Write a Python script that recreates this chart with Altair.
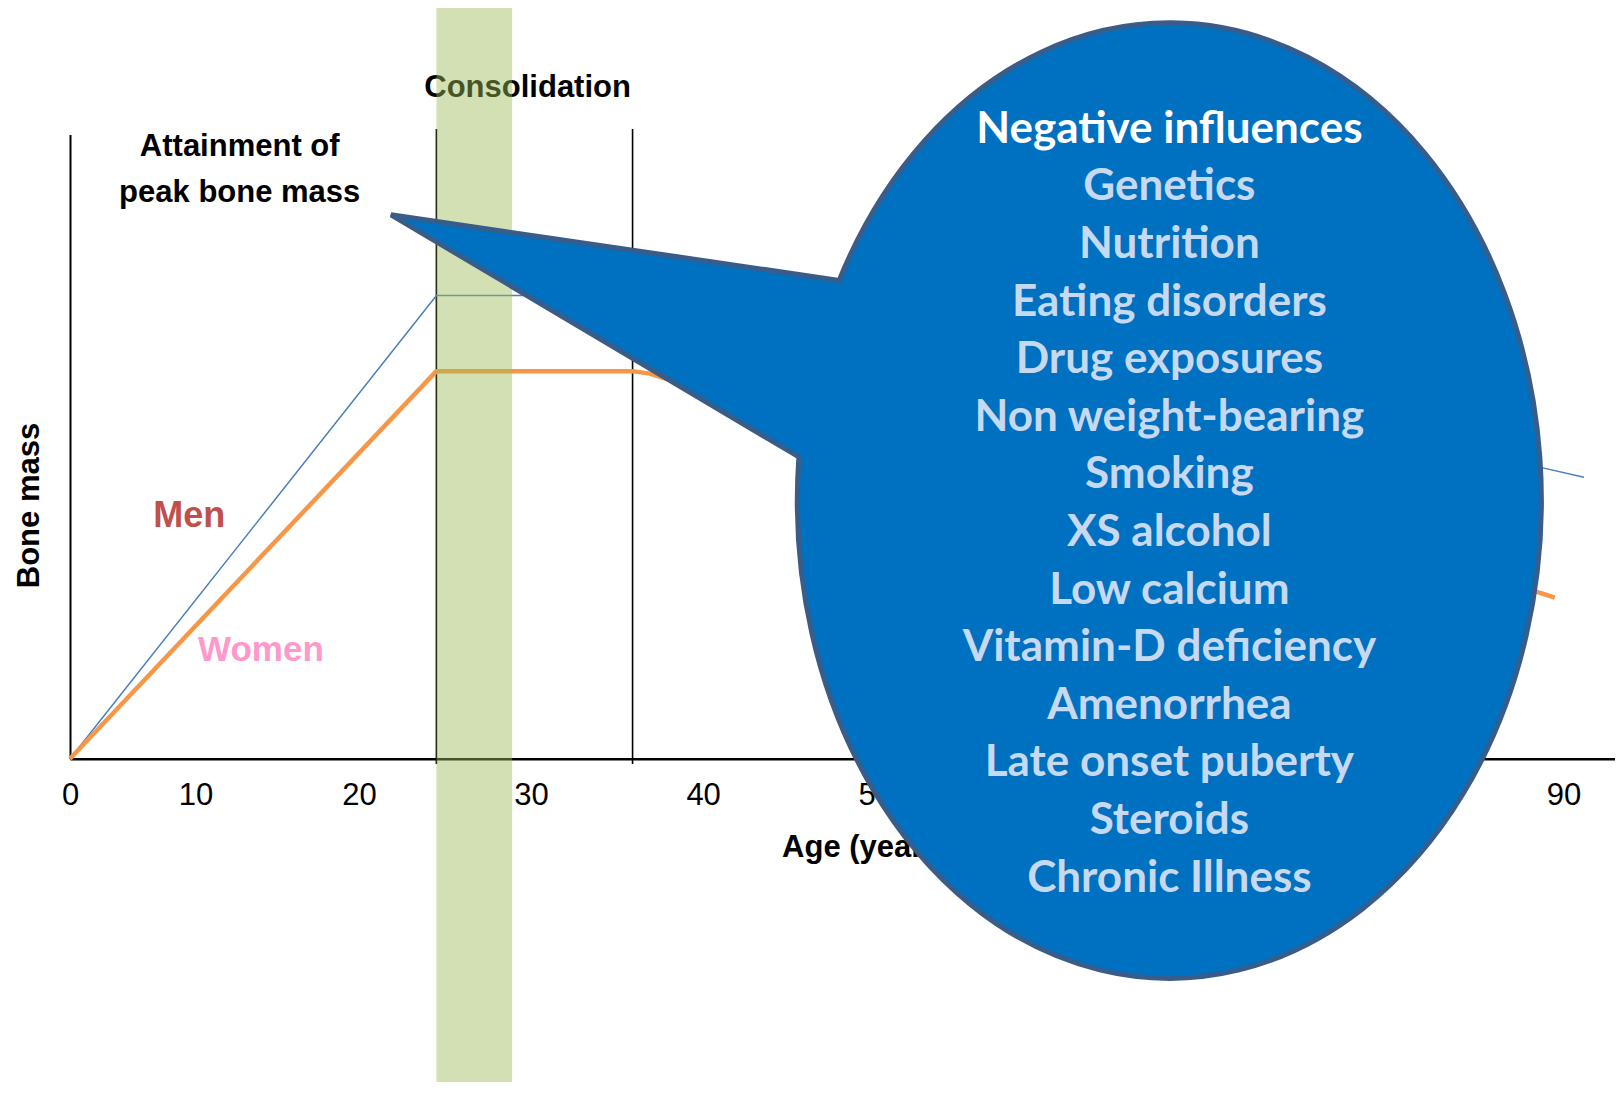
import altair as alt
import pandas as pd

# ---------------- data ----------------
men_age = [0, 24.5, 38, 88.8, 91.2]
men_mass = [0, 74.2, 74.2, 46.6, 45.1]
women_age = [0, 24.5, 35.9, 36.9, 37.8, 88.6, 89.5]
women_mass = [0, 62.1, 62.1, 61.7, 60.9, 26.6, 25.8]

phase_ages = [24.5, 35.9]           # vertical phase boundaries
band_start, band_end = 24.5, 28.9    # consolidation band
tick_values = [0, 10, 20, 30, 40, 50, 60, 70, 80, 90]

title_line = "Negative influences"
influences = ["Genetics", "Nutrition", "Eating disorders", "Drug exposures",
              "Non weight-bearing", "Smoking", "XS alcohol", "Low calcium",
              "Vitamin-D deficiency", "Amenorrhea", "Late onset puberty",
              "Steroids", "Chronic Illness"]

NARROW = "Liberation Sans Narrow, Arial Narrow, Liberation Sans, sans-serif"
CAL = "Lato, Open Sans, sans-serif"
FS = 31
H = 1074

x_scale = alt.Scale(domain=[0, 10, 20, 93], range=[0, 125.6, 289, 1545], nice=False, zero=False)
y_scale = alt.Scale(domain=[0, 100], range=[750.7, 126.6], nice=False, zero=False)

x_axis = alt.Axis(values=tick_values, ticks=False, tickSize=0, grid=False,
                  domainColor="black", domainWidth=2.5,
                  labelFont=NARROW, labelFontSize=FS, labelColor="black",
                  labelBaseline="middle", labelPadding=37,
                  labelFlush=False, labelOverlap=False,
                  offset=-(H - 750.7), title="Age (years)", titleFont=NARROW,
                  titleFontSize=FS, titleFontWeight="bold", titleColor="black",
                  titleX=796, titleY=88.3, titleBaseline="middle", titleAlign="center")
y_axis = alt.Axis(ticks=False, tickSize=0, labels=False, grid=False,
                  domainColor="black", domainWidth=2,
                  title="Bone mass", titleFont=NARROW, titleFontSize=FS,
                  titleFontWeight="bold", titleColor="black",
                  titleX=-41, titleY=497, titleAngle=270,
                  titleAlign="center", titleBaseline="middle")


def X(**kw):
    return alt.X("age:Q", scale=x_scale, axis=x_axis, **kw)


def Y(**kw):
    return alt.Y("mass:Q", scale=y_scale, axis=y_axis, **kw)


rules_df = pd.DataFrame({"age": phase_ages, "mass": [-0.85] * 2, "mass2": [100.9] * 2})
rules = alt.Chart(rules_df).mark_rule(color="black", strokeWidth=1.6).encode(
    x=X(), y=Y(), y2="mass2:Q")

men = alt.Chart(pd.DataFrame({"age": men_age, "mass": men_mass})).mark_line(
    color="#4a7ebb", strokeWidth=1.5).encode(x=X(), y=Y())
women = alt.Chart(pd.DataFrame({"age": women_age, "mass": women_mass})).mark_line(
    color="#f79646", strokeWidth=4.5, strokeJoin="round").encode(x=X(), y=Y())


def label(txt, age, mass, color="black", size=FS, lh=None):
    kw = dict(text=txt, font=NARROW, fontSize=size, fontWeight="bold", color=color,
              align="center", baseline="middle")
    if lh:
        kw["lineHeight"] = lh
    return alt.Chart(pd.DataFrame({"age": [age], "mass": [mass]})).mark_text(**kw).encode(x=X(), y=Y())


t_cons = label("Consolidation", 29.8, 107.5)
t_att = label(["Attainment of", "peak bone mass"], 12.7, 98.0, lh=46)
t_men = label("Men", 9.5, 38.9, color="#c0504d", size=36)
t_women = label("Women", 14.0, 17.4, color="#ff99cc", size=35)

band = alt.Chart(pd.DataFrame({"age": [band_start], "age2": [band_end]})).mark_rect(
    color="#9bbb59", opacity=0.45).encode(x=X(), x2="age2:Q")

CALLOUT_PATH = "M -330.2 -219.9 A 372 477.7 0 1 1 -370.5 -43.4 L -778.4 -285.5 Z"
callout = alt.Chart(pd.DataFrame({"age": [67.1], "mass": [41.4]})).mark_point(
    shape=CALLOUT_PATH, size=4, filled=True, fill="#0070c0", fillOpacity=1,
    stroke="#385d8a", strokeWidth=5, strokeOpacity=1, opacity=1).encode(x=X(), y=Y())

c_title = alt.Chart(pd.DataFrame({"age": [67.1], "mass": [100.7]})).mark_text(
    text=title_line, font=CAL, fontSize=44, fontWeight="bold", color="white",
    align="center", baseline="middle").encode(x=X(), y=Y())
c_items = alt.Chart(pd.DataFrame({"age": [67.1], "mass": [91.55]})).mark_text(
    text=influences, font=CAL, fontSize=44, fontWeight="bold", color="#c6d9f1",
    lineHeight=57.6, align="center", baseline="middle").encode(x=X(), y=Y())

chart = alt.layer(rules, men, women, t_cons, t_att, t_men, t_women, band,
                  callout, c_title, c_items).properties(
    width=1545, height=H,
    autosize=alt.AutoSizeParams(type="none"),
    padding={"left": 62, "top": 0, "right": 0, "bottom": 0},
).configure_view(stroke=None)

chart.save("out.html", embed_options={"renderer": "svg", "actions": False})
